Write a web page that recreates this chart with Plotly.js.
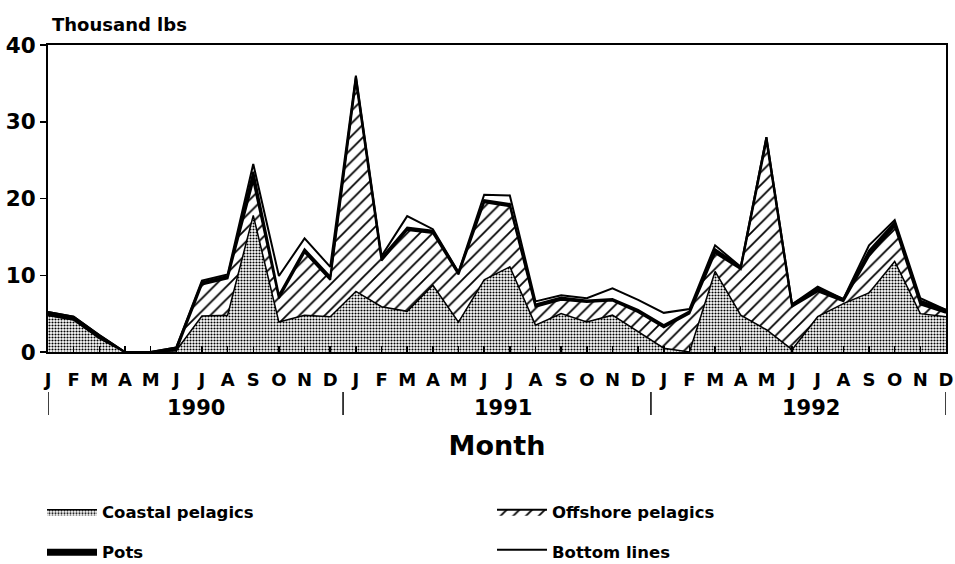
<!DOCTYPE html>
<html>
<head>
<meta charset="utf-8">
<script src="https://cdn.plot.ly/plotly-3.0.1.min.js"></script>
<style>
  html, body { margin: 0; padding: 0; background: #fff; }
  #chart { width: 955px; height: 564px; }
</style>
</head>
<body>
<div id="chart"></div>
<script>
// Month index 0..35 = Jan 1990 .. Dec 1992
const monthLabels = ["J","F","M","A","M","J","J","A","S","O","N","D",
                     "J","F","M","A","M","J","J","A","S","O","N","D",
                     "J","F","M","A","M","J","J","A","S","O","N","D"];
const years = ["1990", "1991", "1992"];

// Thousand lbs, per gear type (stacked in this order)
const coastalPelagics = [4.8, 4.2, 1.8, 0, 0, 0.2, 4.7, 4.8, 17.8, 3.9, 4.8, 4.6,
                         7.9, 5.9, 5.3, 8.7, 3.9, 9.4, 11.1, 3.5, 5.0, 3.9, 4.8, 2.6,
                         0.5, 0, 10.5, 4.8, 2.9, 0.3, 4.6, 6.3, 7.7, 11.8, 5.0, 4.6];
const offshorePelagics = [0, 0, 0, 0, 0, 0, 4.1, 4.8, 4.5, 3.1, 8.2, 4.8,
                          27.4, 6.0, 10.6, 6.8, 6.2, 10.1, 7.9, 2.4, 1.8, 2.6, 1.9, 2.6,
                          2.7, 5.0, 2.4, 6.0, 24.6, 5.6, 3.3, 0.3, 4.8, 4.6, 1.2, 0.5];
const pots = [0.4, 0.4, 0.4, 0, 0, 0.4, 0.3, 0.3, 1.2, 0.4, 0.4, 0.4,
              0.5, 0.4, 0.3, 0.3, 0.3, 0.3, 0.3, 0.3, 0.3, 0.2, 0.2, 0.3,
              0.3, 0.3, 0.5, 0.3, 0.5, 0.3, 0.4, 0.3, 0.7, 0.5, 0.5, 0.4];
const bottomLines = [0, 0, 0, 0, 0, 0, 0.2, 0.2, 1.0, 2.5, 1.4, 1.3,
                     0.2, 0.2, 1.5, 0.2, 0, 0.7, 1.1, 0.4, 0.3, 0.3, 1.4, 1.3,
                     1.6, 0.3, 0.5, 0, 0, 0, 0.2, 0, 0.7, 0.3, 0.3, 0];

const x = monthLabels.map((_, i) => i);
const FONT = "DejaVu Sans, Verdana, sans-serif";

const traces = [
  {
    name: "Coastal pelagics", x: x, y: coastalPelagics, stackgroup: "one",
    mode: "lines", line: {color: "#000", width: 1.5},
    fillcolor: "#ffffff",
    fillpattern: {shape: ".", fgcolor: "#000", bgcolor: "#fff", size: 3, solidity: 0.4},
    legend: "legend"
  },
  {
    name: "Offshore pelagics", x: x, y: offshorePelagics, stackgroup: "one",
    mode: "lines", line: {color: "#000", width: 2},
    fillcolor: "#ffffff",
    fillpattern: {shape: "/", fgcolor: "#000", bgcolor: "#fff", size: 9, solidity: 0.2},
    legend: "legend2"
  },
  {
    name: "Pots", x: x, y: pots, stackgroup: "one",
    mode: "lines", line: {color: "#000", width: 2},
    fillcolor: "#000000",
    legend: "legend3"
  },
  {
    name: "Bottom lines", x: x, y: bottomLines, stackgroup: "one",
    mode: "lines", line: {color: "#000", width: 2},
    fillcolor: "#ffffff",
    legend: "legend4"
  }
];

const shapes = [];
[0, 11.5, 23.5, 35].forEach(v => {
  shapes.push({type: "line", xref: "x", yref: "paper", x0: v, x1: v,
    y0: -0.13, y1: -0.205, line: {color: "#000", width: 1.5}});
});

const annotations = [
  {text: "<b>Thousand lbs</b>", xref: "paper", yref: "paper", x: 0.002, y: 1.068,
   xanchor: "left", yanchor: "middle", showarrow: false, font: {family: FONT, size: 18, color: "#000"}},
];
years.forEach((yr, k) => {
  annotations.push({text: "<b>" + yr + "</b>", xref: "x", yref: "paper",
    x: 5.75 + 12 * k, y: -0.183, xanchor: "center", yanchor: "middle", showarrow: false,
    font: {family: FONT, size: 21, color: "#000"}});
});

function legendAt(px, py) {
  return {
    xref: "container", yref: "container",
    x: px / 955, y: 1 - py / 564, xanchor: "left", yanchor: "middle",
    font: {family: FONT, size: 16.5, color: "#000", weight: "bold"},
    bgcolor: "rgba(0,0,0,0)", itemwidth: 50, traceorder: "normal"
  };
}

const layout = {
  width: 955, height: 564,
  margin: {l: 48, r: 9, t: 45, b: 212, autoexpand: false},
  paper_bgcolor: "#fff", plot_bgcolor: "#fff",
  showlegend: true,
  font: {family: FONT, color: "#000"},
  xaxis: {
    range: [0, 35], tickmode: "array", tickvals: x, ticktext: monthLabels,
    ticks: "inside", ticklen: 6, tickwidth: 1.5, tickcolor: "#000",
    showline: true, linecolor: "#000", linewidth: 2, mirror: true,
    showgrid: false, zeroline: false,
    tickfont: {family: FONT, size: 18, color: "#000", weight: "bold"},
    ticklabelstandoff: 10,
    title: {text: "Month", font: {family: FONT, size: 27, color: "#000", weight: "bold"}, standoff: 48}
  },
  yaxis: {
    range: [0, 40], dtick: 10, tick0: 0,
    ticks: "outside", ticklen: 6, tickwidth: 1.5, tickcolor: "#000",
    showline: true, linecolor: "#000", linewidth: 2, mirror: true,
    showgrid: false, zeroline: false,
    tickfont: {family: FONT, size: 21.5, color: "#000", weight: "bold"}
  },
  legend: legendAt(42, 512),
  legend2: legendAt(492, 512),
  legend3: legendAt(42, 552),
  legend4: legendAt(492, 552),
  shapes: shapes,
  annotations: annotations
};

Plotly.newPlot("chart", traces, layout, {staticPlot: true, displayModeBar: false});
</script>
</body>
</html>
